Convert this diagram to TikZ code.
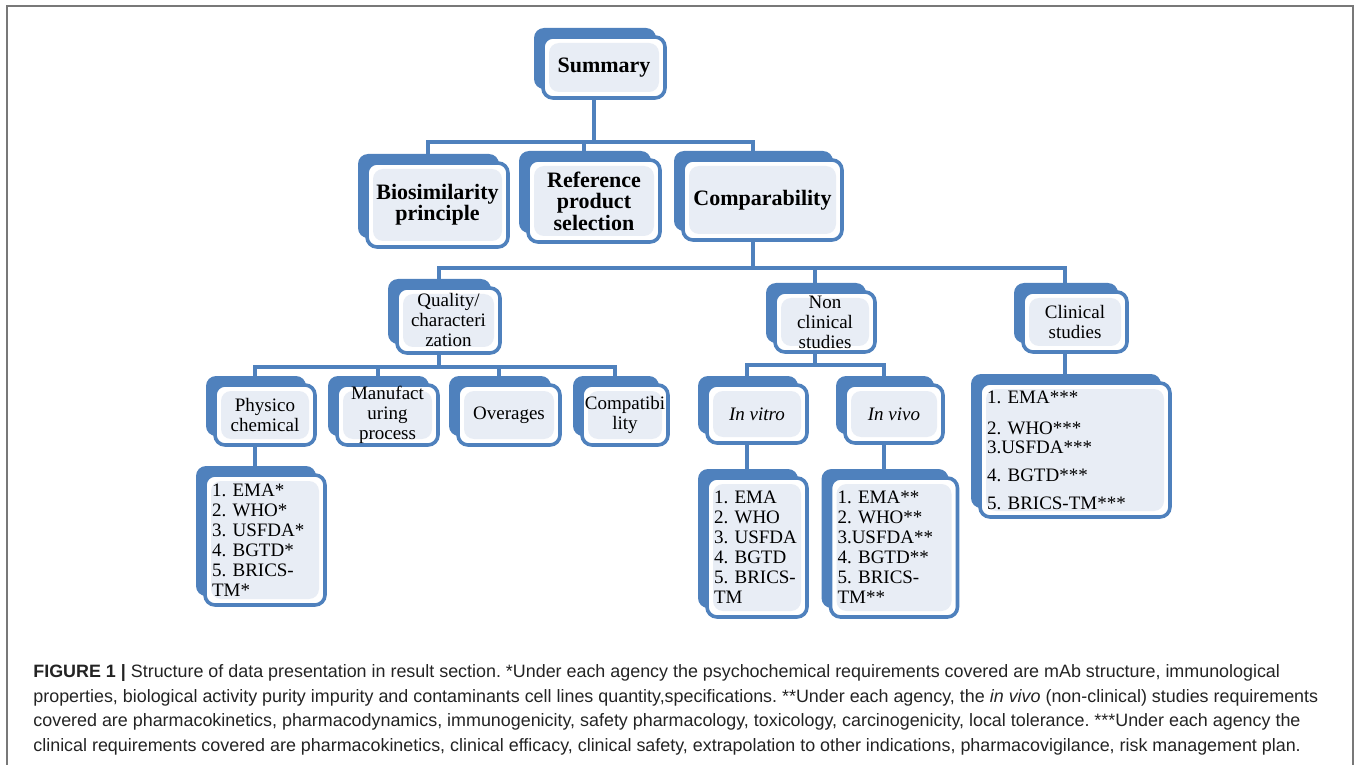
\documentclass[tikz,border=0pt]{standalone}
\usepackage{fontspec}
\setmainfont{Liberation Serif}
\newfontfamily\capfont{Liberation Sans}
\usetikzlibrary{shadows}
\frenchspacing

\begin{document}
\begin{tikzpicture}[x=0.5pt,y=-0.5pt]
      \definecolor{myblue}{RGB}{79,129,189}
      \definecolor{mypanel}{RGB}{232,237,245}
      \definecolor{myframe}{RGB}{120,120,120}
      \definecolor{mytext}{RGB}{35,35,35}

      \tikzset{
        box/.style={draw=myblue,line width=1.8pt,rounded corners=5pt,fill=white,
          drop shadow={shadow xshift=-4.5pt,shadow yshift=4.5pt,fill=myblue,opacity=1},
          path picture={\fill[mypanel]
            ([shift={(3pt,-3pt)}]path picture bounding box.north west) rectangle
            ([shift={(-3pt,3pt)}]path picture bounding box.south east);},
          align=center,inner xsep=1pt,inner ysep=0pt},
        top/.style={box,font=\bfseries\fontsize{11}{10.7}\selectfont},
        mid/.style={box,font=\fontsize{9.5}{10}\selectfont},
        list/.style={box,align=left,inner xsep=3.5pt,text width=#1,
          font=\fontsize{9.5}{10}\selectfont},
        link/.style={draw=myblue,line width=2pt,transform canvas={xshift=-5pt}}
      }

      \useasboundingbox (0,0) rectangle (1357,765);

      % FRAME
      \draw[myframe,line width=1pt] (7,765) -- (7,6) -- (1353,6) -- (1353,765);

      % LEVEL 1
      \node[top,minimum width=61pt,minimum height=30.5pt] (sum) at (604,67.5) {Summary};
      \node[top,minimum width=70.5pt,minimum height=42pt] (bio) at (437.5,205) {Biosimilarity\\principle};
      \node[top,minimum width=66pt,minimum height=41pt] (ref) at (594,201) {Reference\\product\\selection};
      \node[top,minimum width=79.5pt,minimum height=40pt] (comp) at (762.5,200) {Comparability};

      % LEVEL 2
      \node[mid,minimum width=51.5pt,minimum height=32.5pt] (qual) at (448.5,320.5) {Quality/\\characteri\\zation};
      \node[mid,minimum width=50pt,minimum height=30pt] (nonc) at (825,322) {Non\\clinical\\studies};
      \node[mid,minimum width=52pt,minimum height=30pt] (clin) at (1075,322) {Clinical\\studies};

      % LEVEL 3
      \node[mid,minimum width=50pt,minimum height=30pt] (phys) at (265,415) {Physico\\chemical};
      \node[mid,minimum width=50.5pt,minimum height=30pt] (manu) at (387.5,415) {Manufact\\uring\\process};
      \node[mid,minimum width=51pt,minimum height=30pt] (over) at (509,415) {Overages};
      \node[mid,minimum width=43pt,minimum height=30pt] (compa) at (625,415) {Compatibi\\lity};
      \node[mid,minimum width=50pt,minimum height=29pt] (vitro) at (757,414) {\textit{In vitro}};
      \node[mid,minimum width=49pt,minimum height=29pt] (vivo) at (894,414) {\textit{In vivo}};

      % AGENCY LISTS
      \node[list=53pt,minimum height=65pt] (physl) at (265,540)
        {1. EMA*\\2. WHO*\\3. USFDA*\\4. BGTD*\\5. BRICS-\\TM*};
      \node[list=43pt,minimum height=69.5pt] (vitrol) at (757,547.5)
        {1. EMA\\2. WHO\\3. USFDA\\4. BGTD\\5. BRICS-\\TM};
      \node[list=56.5pt,minimum height=69.5pt] (vivol) at (894,547.5)
        {1. EMA**\\2. WHO**\\3.USFDA**\\4. BGTD**\\5. BRICS-\\TM**};
      \node[list=88pt,minimum height=67pt] (clinl) at (1075,450)
        {1. EMA***\\[5.5pt]2. WHO***\\[-0.5pt]3.USFDA***\\[4pt]4. BGTD***\\[4pt]5. BRICS-TM***};

      % CONNECTORS
      \coordinate (bus0) at (0,142);
      \coordinate (bus1) at (0,268);
      \coordinate (bus2) at (0,367);
      \coordinate (bus3) at (0,365);
      \foreach \c in {bio,ref,comp}
        \draw[link] (sum.south) -- (sum.south |- bus0) -| (\c.north);
      \foreach \c in {qual,nonc,clin}
        \draw[link] (comp.south) -- (comp.south |- bus1) -| (\c.north);
      \foreach \c in {phys,manu,over,compa}
        \draw[link] (qual.south) -- (qual.south |- bus2) -| (\c.north);
      \foreach \c in {vitro,vivo}
        \draw[link] (nonc.south) -- (nonc.south |- bus3) -| (\c.north);
      \draw[link] (phys.south) -- (physl.north);
      \draw[link] (vitro.south) -- (vitrol.north);
      \draw[link] (vivo.south) -- (vivol.north);
      \draw[link] (clin.south) -- (clinl.north);

      % CAPTION
      \node[anchor=north west,inner sep=0pt,align=left,text=mytext,
        font=\capfont\fontsize{8.95}{12.35}\selectfont] (cap) at (33,664)
        {\textbf{FIGURE 1 |} Structure of data presentation in result section. *Under each agency the psychochemical requirements covered are mAb structure, immunological\\
         properties, biological activity purity impurity and contaminants cell lines quantity,specifications. **Under each agency, the \textit{in vivo} (non-clinical) studies requirements\\
         covered are pharmacokinetics, pharmacodynamics, immunogenicity, safety pharmacology, toxicology, carcinogenicity, local tolerance. ***Under each agency the\\
         clinical requirements covered are pharmacokinetics, clinical efficacy, clinical safety, extrapolation to other indications, pharmacovigilance, risk management plan.};
\end{tikzpicture}
\end{document}
